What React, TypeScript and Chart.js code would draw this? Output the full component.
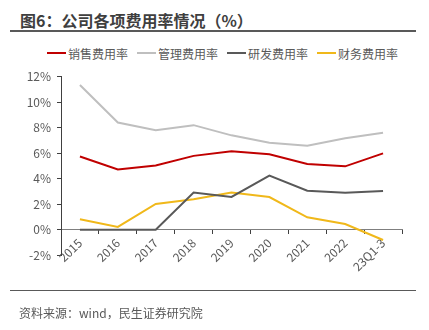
import React, { useEffect, useRef } from "react";
import { Chart, registerables } from "chart.js";

Chart.register(...registerables);

const categories = ["2015", "2016", "2017", "2018", "2019", "2020", "2021", "2022", "23Q1-3"];
const salesRate = [5.74, 4.72, 5.03, 5.79, 6.16, 5.91, 5.15, 4.97, 5.99];
const adminRate = [11.35, 8.41, 7.8, 8.2, 7.4, 6.82, 6.59, 7.17, 7.61];
const rndRate = [0, 0, 0, 2.92, 2.57, 4.24, 3.06, 2.9, 3.03];
const financeRate = [0.82, 0.22, 2.02, 2.39, 2.92, 2.56, 0.97, 0.45, -0.81];
const seriesNames = ["销售费用率", "管理费用率", "研发费用率", "财务费用率"];
const seriesColors = ["#C00000", "#BFBFBF", "#595959", "#F0B81A"];

const FONT = '"Microsoft YaHei", "Noto Sans CJK SC", sans-serif';

export default function App() {
  const ref = useRef<HTMLCanvasElement | null>(null);
  useEffect(() => {
    if (!ref.current) return;
    const data = [salesRate, adminRate, rndRate, financeRate];
    const chart = new Chart(ref.current, {
      type: "line",
      data: {
        labels: categories,
        datasets: data.map((d, i) => ({
          label: seriesNames[i],
          data: d,
          borderColor: seriesColors[i],
          backgroundColor: seriesColors[i],
          borderWidth: 2,
          pointRadius: 0,
          tension: 0,
        })),
      },
      options: {
        responsive: false,
        animation: false,
        layout: { padding: { left: 0, right: 27, top: 14.7, bottom: 46.8 } },
        plugins: { legend: { display: false }, tooltip: { enabled: false } },
        scales: {
          x: {
            position: { y: 0 },
            offset: true,
            grid: {
              offset: true,
              drawOnChartArea: false,
              drawTicks: true,
              tickLength: 4,
              color: "#404040",
            },
            border: { display: true, color: "#7F7F7F", width: 1 },
            ticks: {
              color: "#595959",
              font: { family: FONT, size: 12 },
              maxRotation: 45,
              minRotation: 45,
              padding: 2,
              autoSkip: false,
            },
            afterFit: (s: any) => {
              s.height = 0;
            },
          },
          y: {
            min: -2,
            max: 12,
            ticks: {
              stepSize: 2,
              color: "#595959",
              font: { family: FONT, size: 12 },
              padding: 6,
              callback: (v: any) => `${v}%`,
            },
            grid: {
              drawOnChartArea: false,
              drawTicks: true,
              tickLength: 4,
              color: "#404040",
            },
            border: { display: true, color: "#404040", width: 1 },
            afterFit: (s: any) => {
              s.width = 61;
            },
          },
        },
      },
    });
    return () => chart.destroy();
  }, []);

  return (
    <div
      style={{
        position: "fixed",
        left: 0,
        top: 0,
        width: 429,
        height: 330,
        background: "#fff",
        fontFamily: FONT,
        overflow: "hidden",
      }}
    >
      <div
        style={{
          position: "absolute",
          left: 20,
          top: 8,
          fontSize: 16,
          fontWeight: "bold",
          color: "#3F3F3F",
          lineHeight: "24px",
          whiteSpace: "nowrap",
        }}
      >
        图6：公司各项费用率情况（%）
      </div>
      <div style={{ position: "absolute", left: 10, top: 30, width: 406, height: 1.5, background: "#595959" }} />
      <div
        style={{
          position: "absolute",
          left: 47,
          top: 45,
          height: 16,
          display: "flex",
          alignItems: "center",
          fontSize: 12,
          color: "#595959",
          whiteSpace: "nowrap",
        }}
      >
        {seriesNames.map((n, i) => (
          <div key={n} style={{ display: "flex", alignItems: "center", marginRight: 9 }}>
            <div style={{ width: 19, height: 2, background: seriesColors[i], marginRight: 2 }} />
            <span>{n}</span>
          </div>
        ))}
      </div>
      <canvas
        ref={ref}
        width={429}
        height={240}
        style={{ position: "absolute", left: 0, top: 62, width: 429, height: 240 }}
      />
      <div style={{ position: "absolute", left: 10, top: 289.5, width: 406, height: 1.5, background: "#595959" }} />
      <div
        style={{
          position: "absolute",
          left: 19,
          top: 305,
          fontSize: 12,
          lineHeight: "16px",
          color: "#595959",
          whiteSpace: "nowrap",
        }}
      >
        资料来源：wind，民生证券研究院
      </div>
    </div>
  );
}
